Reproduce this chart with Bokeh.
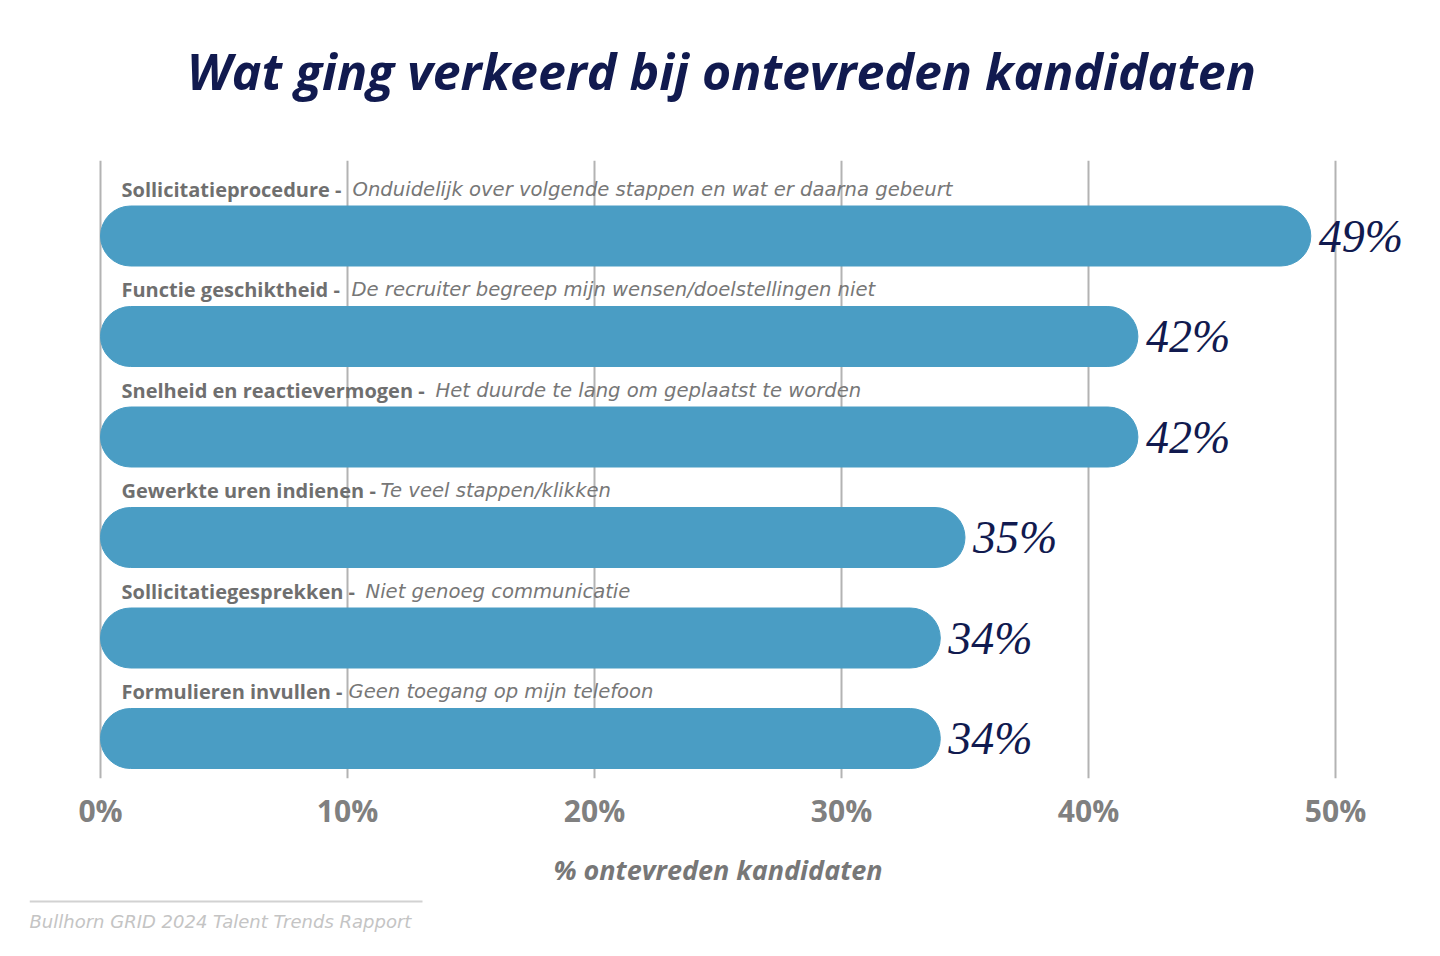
from bokeh.plotting import figure
from bokeh.models import Range1d, FixedTicker, PrintfTickFormatter
from bokeh.layouts import column
from bokeh.core.properties import value
from bokeh.embed import file_html
from bokeh.resources import INLINE

# ---- data ----
categories = [
    "Sollicitatieprocedure - ",
    "Functie geschiktheid - ",
    "Snelheid en reactievermogen - ",
    "Gewerkte uren indienen - ",
    "Sollicitatiegesprekken - ",
    "Formulieren invullen - ",
]
details = [
    "Onduidelijk over volgende stappen en wat er daarna gebeurt",
    "De recruiter begreep mijn wensen/doelstellingen niet",
    "Het duurde te lang om geplaatst te worden",
    "Te veel stappen/klikken",
    "Niet genoeg communicatie",
    "Geen toegang op mijn telefoon",
]
values = [49, 42, 42, 35, 34, 34]
value_labels = ["49%", "42%", "42%", "35%", "34%", "34%"]
ticks = [0, 10, 20, 30, 40, 50]
title_text = "Wat ging verkeerd bij ontevreden kandidaten"
x_title = "% ontevreden kandidaten"
source_text = "Bullhorn GRID 2024 Talent Trends Rapport"

# ---- styling / layout constants ----
W = 1440
H_HEAD = 150
H_MAIN = 742
H_FOOT = 64
BORDER_L, BORDER_R, BORDER_T, BORDER_B = 29, 34, 10, 114
FRAME_W = W - BORDER_L - BORDER_R
FRAME_H = H_MAIN - BORDER_T - BORDER_B
PX_PER_UNIT = 24.7
ZERO_PX = 71
ROW_PX = 100.5
FIRST_ROW_PX = 75.5
detail_offsets = [252, 251, 335, 280, 265, 248]

BAR = "#4a9dc4"
NAVY = "#111a4f"
GREY = "#6f6f6f"
GRID = "#b3b3b3"

x0 = -ZERO_PX / PX_PER_UNIT
x1 = x0 + FRAME_W / PX_PER_UNIT
y_top = -FIRST_ROW_PX / ROW_PX
y_bot = y_top + FRAME_H / ROW_PX

rows = list(range(len(values)))

# ---- header (title) ----
h = figure(width=W, height=H_HEAD, output_backend="svg", toolbar_location=None,
           x_range=Range1d(0, FRAME_W), y_range=Range1d(H_HEAD, 0),
           x_axis_location=None, y_axis_location=None, min_border=0)
h.outline_line_color = None
h.xgrid.grid_line_color = None
h.ygrid.grid_line_color = None
h.text(x=[FRAME_W / 2 + 3.5], y=[70], text=[title_text], text_align="center",
       text_baseline="middle", text_font=value("Open Sans"),
       text_font_style="bold italic", text_font_size="50px", text_color=NAVY)

# ---- main chart ----
p = figure(width=W, height=H_MAIN, output_backend="svg", toolbar_location=None,
           x_range=Range1d(x0, x1), y_range=Range1d(y_bot, y_top),
           y_axis_location=None, min_border_left=BORDER_L, min_border_right=BORDER_R,
           min_border_top=BORDER_T, min_border_bottom=BORDER_B)
p.outline_line_color = None
p.ygrid.grid_line_color = None
p.xgrid.ticker = FixedTicker(ticks=ticks)
p.xgrid.grid_line_color = GRID
p.xgrid.grid_line_width = 2

ax = p.xaxis[0]
ax.ticker = FixedTicker(ticks=ticks)
ax.formatter = PrintfTickFormatter(format="%d%%")
ax.axis_line_color = None
ax.major_tick_line_color = None
ax.minor_tick_line_color = None
ax.major_tick_out = 0
ax.major_label_standoff = 11
ax.major_label_text_font = "Open Sans"
ax.major_label_text_font_style = "bold"
ax.major_label_text_font_size = "30px"
ax.major_label_text_color = "#808080"
ax.axis_label = x_title
ax.axis_label_standoff = 17
ax.axis_label_text_font = "Open Sans"
ax.axis_label_text_font_style = "bold italic"
ax.axis_label_text_font_size = "27px"
ax.axis_label_text_color = "#777777"

bar_h = 60 / ROW_PX
p.hbar(y=rows, left=0, right=values, height=bar_h, color=BAR, border_radius=30)

p.text(x=[0] * len(rows), y=rows, text=categories, x_offset=21, y_offset=-47,
       text_baseline="alphabetic", text_align="left", text_font=value("Open Sans"),
       text_font_style="bold", text_font_size="20px", text_color=GREY)
p.text(x=[0] * len(rows), y=rows, text=details, x_offset=detail_offsets, y_offset=-47,
       text_baseline="alphabetic", text_align="left", text_font=value("DejaVu Sans"),
       text_font_style="italic", text_font_size="19.6px", text_color="#777777")

p.text(x=values, y=rows, text=value_labels, x_offset=8, y_offset=0,
       text_baseline="middle", text_align="left", text_font=value("Liberation Serif"),
       text_font_style="italic", text_font_size="46px", text_color=NAVY)

# ---- footer (source) ----
f = figure(width=W, height=H_FOOT, output_backend="svg", toolbar_location=None,
           x_range=Range1d(0, FRAME_W), y_range=Range1d(H_FOOT, 0),
           x_axis_location=None, y_axis_location=None, min_border=0)
f.outline_line_color = None
f.xgrid.grid_line_color = None
f.ygrid.grid_line_color = None
f.segment(x0=[0], y0=[9], x1=[393], y1=[9], line_color="#d2d2d2", line_width=2)
f.text(x=[0], y=[29], text=[source_text], text_baseline="middle", text_align="left",
       text_font=value("DejaVu Sans"), text_font_style="italic", text_font_size="18px",
       text_color="#c4c4c4")

layout = column(h, p, f, spacing=0)
open("out.html", "w").write(file_html(layout, INLINE))
